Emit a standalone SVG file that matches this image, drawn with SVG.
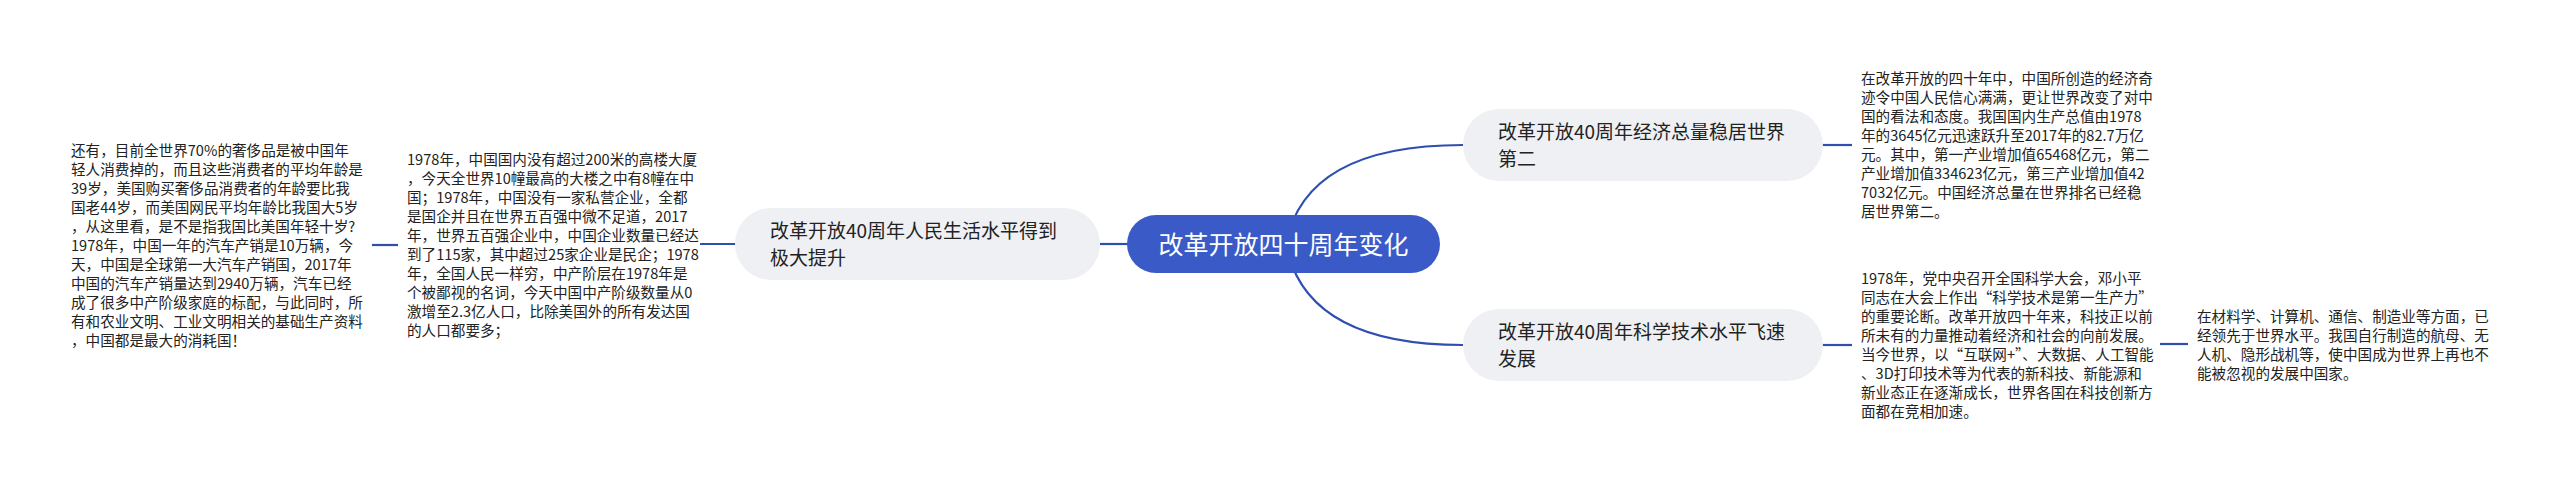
<svg xmlns="http://www.w3.org/2000/svg" width="2560" height="489" viewBox="0 0 2560 489">
<style>
.bg{fill:#ffffff}
.conn{fill:none;stroke:#2f4fb0;stroke-width:2.2}
.pill{fill:#eef0f3}
.root{fill:#3a5bc7}
.ntext{font-family:"Noto Sans CJK SC","Noto Sans",sans-serif;font-size:19px;fill:#222}
.rtext{font-family:"Noto Sans CJK SC","Noto Sans",sans-serif;font-size:25px;fill:#ffffff}
.btext{font-family:"Noto Sans CJK SC","Noto Sans",sans-serif;font-size:14.6px;fill:#222}
</style>
<rect class="bg" x="0" y="0" width="2560" height="489"/>
<g id="connectors">
<path class="conn" d="M1286 244 Q1305 145 1463 145"/>
<path class="conn" d="M1286 244 Q1305 345 1463 345"/>
<line class="conn" x1="1100" y1="244" x2="1130" y2="244"/>
<line class="conn" x1="700" y1="244" x2="736" y2="244"/>
<line class="conn" x1="372" y1="245" x2="398" y2="245"/>
<line class="conn" x1="1822" y1="145" x2="1852" y2="145"/>
<line class="conn" x1="1822" y1="345" x2="1852" y2="345"/>
<line class="conn" x1="2160" y1="344" x2="2188" y2="344"/>
</g>
<g id="root">
<rect class="root" x="1127" y="215" width="313" height="58" rx="29"/>
<text class="rtext" x="1283.5" y="253.5" text-anchor="middle">改革开放四十周年变化</text>
</g>
<g id="node-economy">
<rect class="pill" x="1463" y="109" width="360" height="72" rx="36"/>
<text class="ntext"><tspan x="1498" y="138.5">改革开放40周年经济总量稳居世界</tspan><tspan x="1498" y="165.5">第二</tspan></text>
</g>
<g id="node-science">
<rect class="pill" x="1463" y="309" width="360" height="72" rx="36"/>
<text class="ntext"><tspan x="1498" y="338.5">改革开放40周年科学技术水平飞速</tspan><tspan x="1498" y="365.5">发展</tspan></text>
</g>
<g id="node-life">
<rect class="pill" x="735" y="208" width="365" height="72" rx="36"/>
<text class="ntext"><tspan x="770" y="237.5">改革开放40周年人民生活水平得到</tspan><tspan x="770" y="264.5">极大提升</tspan></text>
</g>
<g id="text-economy">
<text class="btext">
<tspan x="1861" y="83.5">在改革开放的四十年中，中国所创造的经济奇</tspan>
<tspan x="1861" y="102.5">迹令中国人民信心满满，更让世界改变了对中</tspan>
<tspan x="1861" y="121.5">国的看法和态度。我国国内生产总值由1978</tspan>
<tspan x="1861" y="140.5">年的3645亿元迅速跃升至2017年的82.7万亿</tspan>
<tspan x="1861" y="159.5">元。其中，第一产业增加值65468亿元，第二</tspan>
<tspan x="1861" y="178.5">产业增加值334623亿元，第三产业增加值42</tspan>
<tspan x="1861" y="197.5">7032亿元。中国经济总量在世界排名已经稳</tspan>
<tspan x="1861" y="216.5">居世界第二。</tspan>
</text>
</g>
<g id="text-science">
<text class="btext">
<tspan x="1861" y="283.5">1978年，党中央召开全国科学大会，邓小平</tspan>
<tspan x="1861" y="302.5">同志在大会上作出“科学技术是第一生产力”</tspan>
<tspan x="1861" y="321.5">的重要论断。改革开放四十年来，科技正以前</tspan>
<tspan x="1861" y="340.5">所未有的力量推动着经济和社会的向前发展。</tspan>
<tspan x="1861" y="359.5">当今世界，以“互联网+”、大数据、人工智能</tspan>
<tspan x="1861" y="378.5">、3D打印技术等为代表的新科技、新能源和</tspan>
<tspan x="1861" y="397.5">新业态正在逐渐成长，世界各国在科技创新方</tspan>
<tspan x="1861" y="416.5">面都在竞相加速。</tspan>
</text>
</g>
<g id="text-materials">
<text class="btext">
<tspan x="2197" y="321.5">在材料学、计算机、通信、制造业等方面，已</tspan>
<tspan x="2197" y="340.5">经领先于世界水平。我国自行制造的航母、无</tspan>
<tspan x="2197" y="359.5">人机、隐形战机等，使中国成为世界上再也不</tspan>
<tspan x="2197" y="378.5">能被忽视的发展中国家。</tspan>
</text>
</g>
<g id="text-life">
<text class="btext">
<tspan x="407" y="165">1978年，中国国内没有超过200米的高楼大厦</tspan>
<tspan x="407" y="184">，今天全世界10幢最高的大楼之中有8幢在中</tspan>
<tspan x="407" y="203">国；1978年，中国没有一家私营企业，全都</tspan>
<tspan x="407" y="222">是国企并且在世界五百强中微不足道，2017</tspan>
<tspan x="407" y="241">年，世界五百强企业中，中国企业数量已经达</tspan>
<tspan x="407" y="260">到了115家，其中超过25家企业是民企；1978</tspan>
<tspan x="407" y="279">年，全国人民一样穷，中产阶层在1978年是</tspan>
<tspan x="407" y="298">个被鄙视的名词，今天中国中产阶级数量从0</tspan>
<tspan x="407" y="317">激增至2.3亿人口，比除美国外的所有发达国</tspan>
<tspan x="407" y="336">的人口都要多；</tspan>
</text>
</g>
<g id="text-luxury">
<text class="btext">
<tspan x="71" y="155.5">还有，目前全世界70%的奢侈品是被中国年</tspan>
<tspan x="71" y="174.5">轻人消费掉的，而且这些消费者的平均年龄是</tspan>
<tspan x="71" y="193.5">39岁，美国购买奢侈品消费者的年龄要比我</tspan>
<tspan x="71" y="212.5">国老44岁，而美国网民平均年龄比我国大5岁</tspan>
<tspan x="71" y="231.5">，从这里看，是不是指我国比美国年轻十岁?</tspan>
<tspan x="71" y="250.5">1978年，中国一年的汽车产销是10万辆，今</tspan>
<tspan x="71" y="269.5">天，中国是全球第一大汽车产销国，2017年</tspan>
<tspan x="71" y="288.5">中国的汽车产销量达到2940万辆，汽车已经</tspan>
<tspan x="71" y="307.5">成了很多中产阶级家庭的标配，与此同时，所</tspan>
<tspan x="71" y="326.5">有和农业文明、工业文明相关的基础生产资料</tspan>
<tspan x="71" y="345.5">，中国都是最大的消耗国！</tspan>
</text>
</g>
</svg>
